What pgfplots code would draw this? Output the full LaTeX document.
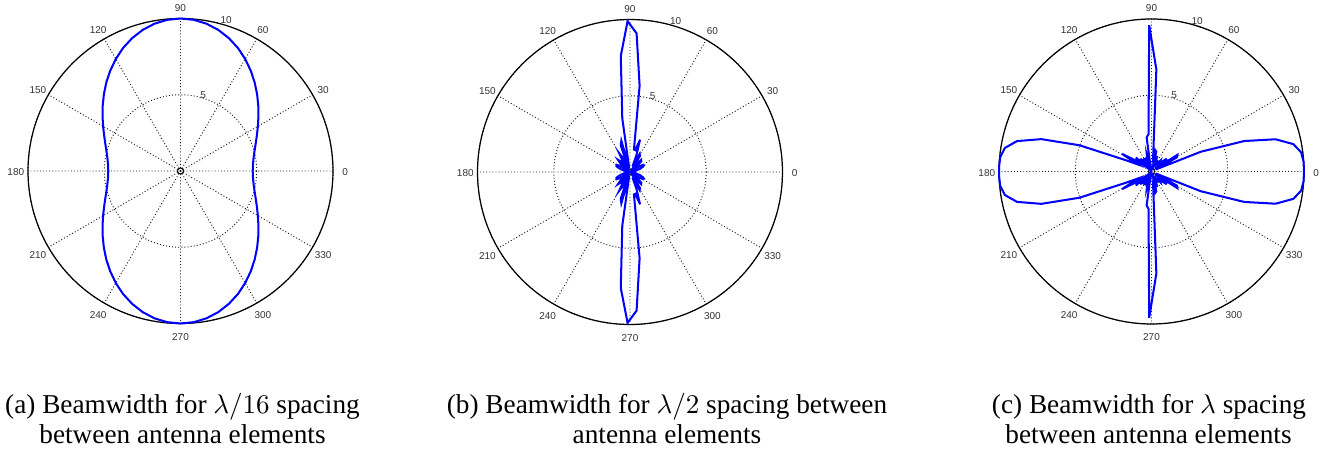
\documentclass[border=0pt]{standalone}
\usepackage{pgfplots}
\pgfplotsset{compat=1.18}
\usepackage{pgfplotstable}
\usepgfplotslibrary{polar}
\usepackage{fontspec}
\setmainfont{Liberation Serif}
\newfontfamily\capfont{Liberation Serif}
\newfontfamily\lblfont{Liberation Sans}

% plot (a): lambda/16 spacing, 5 degree steps
\pgfplotstableread{
theta r
0 4.736
5 4.768
10 4.866
15 5.025
20 5.247
25 5.526
30 5.860
35 6.240
40 6.659
45 7.107
50 7.570
55 8.032
60 8.483
65 8.903
70 9.272
75 9.579
80 9.809
85 9.952
90 10.000
95 9.952
100 9.809
105 9.579
110 9.272
115 8.903
120 8.483
125 8.032
130 7.570
135 7.107
140 6.659
145 6.240
150 5.860
155 5.526
160 5.247
165 5.025
170 4.866
175 4.768
180 4.736
185 4.768
190 4.866
195 5.025
200 5.247
205 5.526
210 5.860
215 6.240
220 6.659
225 7.107
230 7.570
235 8.032
240 8.483
245 8.903
250 9.272
255 9.579
260 9.809
265 9.952
270 10.000
275 9.952
280 9.809
285 9.579
290 9.272
295 8.903
300 8.483
305 8.032
310 7.570
315 7.107
320 6.659
325 6.240
330 5.860
335 5.526
340 5.247
345 5.025
350 4.866
355 4.768
360 4.736
}\dataA

% plots (b) and (c): 100 samples
\pgfplotstableread{
theta rb rc
0 0.000 10.000
3.636 0.032 9.993
7.273 0.126 9.895
10.909 0.280 9.477
14.545 0.483 8.410
18.182 0.708 6.403
21.818 0.908 3.487
25.455 1.011 0.306
29.091 0.935 1.897
32.727 0.622 2.012
36.364 0.087 0.288
40.000 0.545 1.305
43.636 1.026 0.891
47.273 1.078 0.739
50.909 0.553 0.893
54.545 0.390 0.606
58.182 1.236 0.757
61.818 1.342 0.770
65.455 0.394 0.482
69.091 1.178 1.084
72.727 2.223 0.120
76.364 1.473 1.334
80.000 1.493 1.419
83.636 5.689 0.980
87.273 9.102 6.696
90.909 9.898 9.596
94.545 7.630 2.464
98.182 3.552 2.246
101.818 0.238 0.250
105.455 2.127 1.170
109.091 1.854 0.876
112.727 0.373 0.444
116.364 0.994 0.998
120.000 1.414 0.000
123.636 0.867 1.007
127.273 0.108 0.186
130.909 0.886 1.118
134.545 1.121 0.058
138.182 0.823 1.378
141.818 0.230 0.681
145.455 0.378 1.287
149.091 0.810 2.246
152.727 1.000 1.003
156.364 0.977 1.862
160.000 0.816 5.033
163.636 0.595 7.533
167.273 0.377 9.044
170.909 0.196 9.745
174.545 0.071 9.966
178.182 0.008 10.000
181.818 0.008 10.000
185.455 0.071 9.966
189.091 0.196 9.745
192.727 0.377 9.044
196.364 0.595 7.533
200.000 0.816 5.033
203.636 0.977 1.862
207.273 1.000 1.003
210.909 0.810 2.246
214.545 0.378 1.287
218.182 0.230 0.681
221.818 0.823 1.378
225.455 1.121 0.058
229.091 0.886 1.118
232.727 0.108 0.186
236.364 0.867 1.007
240.000 1.414 0.000
243.636 0.994 0.998
247.273 0.373 0.444
250.909 1.854 0.876
254.545 2.127 1.170
258.182 0.238 0.250
261.818 3.552 2.246
265.455 7.630 2.464
269.091 9.898 9.596
272.727 9.102 6.696
276.364 5.689 0.980
280.000 1.493 1.419
283.636 1.473 1.334
287.273 2.223 0.120
290.909 1.178 1.084
294.545 0.394 0.482
298.182 1.342 0.770
301.818 1.236 0.757
305.455 0.390 0.606
309.091 0.553 0.893
312.727 1.078 0.739
316.364 1.026 0.891
320.000 0.545 1.305
323.636 0.087 0.288
327.273 0.622 2.012
330.909 0.935 1.897
334.545 1.011 0.306
338.182 0.908 3.487
341.818 0.708 6.403
345.455 0.483 8.410
349.091 0.280 9.477
352.727 0.126 9.895
356.364 0.032 9.993
360.000 0.000 10.000
}\dataBC

\pgfplotsset{
  beam/.style={
    anchor=center,
    scale only axis, width=112.96pt, height=112.96pt,
    ymin=0, ymax=10,
    xtick={0,30,...,330}, ytick={5,10},
    xticklabels={}, yticklabels={},
    grid=major,
    major grid style={black!90, line width=0.35pt, dash pattern=on 0.35pt off 0.8pt},
    axis line style={black, line width=0.45pt},
    y axis line style={draw=none},
    tick style={draw=none},
    clip=false,
  },
  curve/.style={blue, line width=0.75pt, no markers},
}
\tikzset{lbl/.style={font=\lblfont\fontsize{3.7}{4}\selectfont, text=black!80, inner sep=0pt}}

\newcommand{\polarlabels}{%
  \pgfplotsinvokeforeach{0,30,60,90,120,150,180,210,240,270,300,330}{%
    \node[lbl, yshift=-0.5pt] at (axis cs:##1,10.8) {##1};}
  \node[lbl, anchor=west] at (axis cs:75.7,5.15) {5};
  \node[lbl, anchor=west] at (axis cs:75.3,10.22) {10};
  \draw[black, line width=0.35pt] (axis cs:0,0) circle[radius=1.1pt];
}

\begin{document}
\begin{tikzpicture}
\path[use as bounding box] (0,0) rectangle (493.70pt,167.41pt);

\begin{polaraxis}[beam, at={(66.85pt,104.07pt)}]
\polarlabels
\addplot[curve] table[x=theta, y=r] {\dataA};
\end{polaraxis}

\begin{polaraxis}[beam, at={(233.33pt,103.70pt)}]
\polarlabels
\addplot[curve] table[x=theta, y=rb] {\dataBC};
\end{polaraxis}

\begin{polaraxis}[beam, at={(426.48pt,103.89pt)}]
\polarlabels
\addplot[curve] table[x=theta, y=rc] {\dataBC};
\end{polaraxis}

\begin{scope}[every node/.style={anchor=base, inner sep=0pt, font=\capfont\fontsize{10.1}{12}\selectfont}]
\node at (67.59pt,14.44pt) {(a) Beamwidth for $\lambda/16$ spacing};
\node at (67.59pt,3.33pt) {between antenna elements};
\node at (247.04pt,14.44pt) {(b) Beamwidth for $\lambda/2$ spacing between};
\node at (247.04pt,3.33pt) {antenna elements};
\node at (425.56pt,14.44pt) {(c) Beamwidth for $\lambda$ spacing};
\node at (425.37pt,3.33pt) {between antenna elements};
\end{scope}
\end{tikzpicture}
\end{document}
